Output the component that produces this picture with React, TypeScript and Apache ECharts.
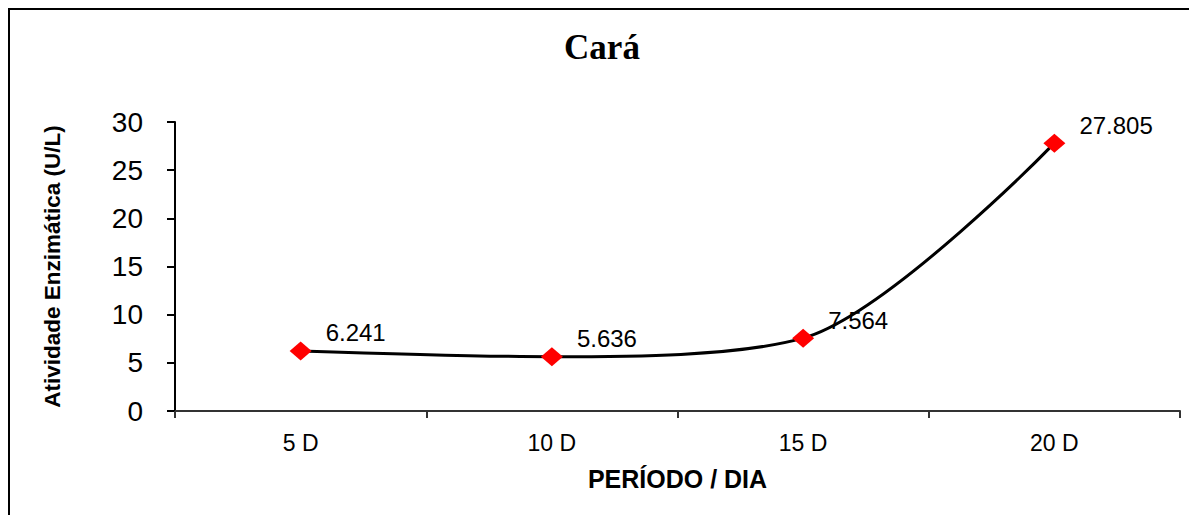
import React, { useEffect, useRef } from "react";
import * as echarts from "echarts";

const categories = ["5 D", "10 D", "15 D", "20 D"];
const values = [6.241, 5.636, 7.564, 27.805];
const yTicks = [0, 5, 10, 15, 20, 25, 30];

export default function App() {
  const ref = useRef<HTMLDivElement>(null);
  useEffect(() => {
    if (!ref.current) return;
    const chart = echarts.init(ref.current, null, { renderer: "svg" });
    const sans = "'Liberation Sans', Arial, sans-serif";
    chart.setOption({
      animation: false,
      backgroundColor: "#ffffff",
      title: {
        text: "Cará",
        left: "center",
        top: 20,
        padding: 0,
        textStyle: {
          fontFamily: "'Liberation Serif', 'Times New Roman', serif",
          fontWeight: "bold",
          fontSize: 35,
          color: "#000",
        },
      },
      grid: { left: 165, right: 14, top: 112, bottom: 104, containLabel: false },
      xAxis: {
        type: "category",
        data: categories,
        boundaryGap: true,
        name: "PERÍODO / DIA",
        nameLocation: "middle",
        nameGap: 55,
        nameTextStyle: { fontFamily: sans, fontWeight: "bold", fontSize: 25, color: "#000" },
        axisLine: { lineStyle: { color: "#333", width: 2 } },
        axisTick: { show: true, alignWithLabel: false, length: 7, lineStyle: { color: "#333", width: 2 } },
        axisLabel: { fontFamily: sans, fontSize: 23, color: "#000", margin: 20 },
        splitLine: { show: false },
      },
      yAxis: {
        type: "value",
        min: yTicks[0],
        max: yTicks[yTicks.length - 1],
        interval: yTicks[1] - yTicks[0],
        name: "Atividade Enzimática (U/L)",
        nameLocation: "middle",
        nameGap: 111,
        nameTextStyle: { fontFamily: sans, fontWeight: "bold", fontSize: 22.5, color: "#000" },
        axisLine: { show: true, lineStyle: { color: "#000", width: 2 } },
        axisTick: { show: true, length: 8, lineStyle: { color: "#000", width: 2 } },
        axisLabel: { fontFamily: sans, fontSize: 28, color: "#000", margin: 32 },
        splitLine: { show: false },
      },
      series: [
        {
          type: "line",
          data: values,
          smooth: 0.3,
          symbol: "diamond",
          symbolSize: [22, 19],
          itemStyle: { color: "#ff0000" },
          lineStyle: { color: "#000", width: 3 },
          z: 3,
          label: {
            show: true,
            position: "right",
            distance: 14,
            offset: [0, -18],
            fontFamily: sans,
            fontSize: 24,
            color: "#000",
            formatter: (p: any) => p.value.toFixed(3),
          },
        },
      ],
    });
    return () => chart.dispose();
  }, []);
  return (
    <div
      style={{
        width: 1184,
        height: 505,
        borderTop: "2px solid #000",
        borderLeft: "2px solid #000",
        borderRight: "2px solid #000",
        borderBottom: "none",
        background: "#fff",
      }}
    >
      <div ref={ref} style={{ width: 1184, height: 505 }} />
    </div>
  );
}
